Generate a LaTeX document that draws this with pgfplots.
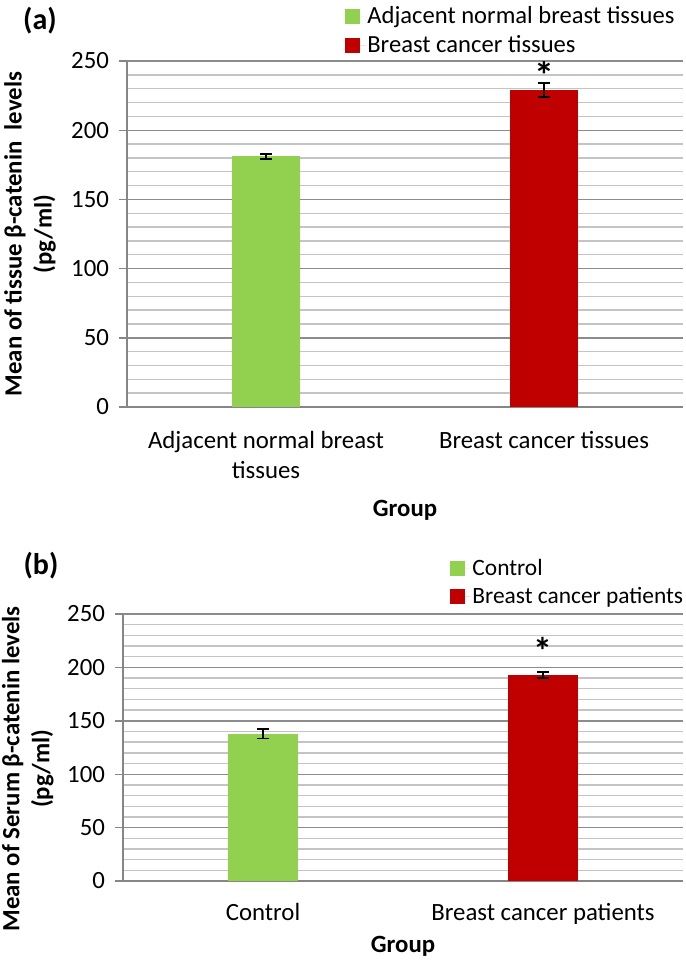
\documentclass[border=0pt]{standalone}
\usepackage{pgfplots}
\pgfplotsset{compat=1.18}
\usepackage{fontspec}
\setmainfont{Carlito}
\definecolor{barg}{HTML}{92D050}
\definecolor{barr}{HTML}{C00000}
\definecolor{majg}{HTML}{8C8C8C}
\definecolor{ming}{HTML}{C4C4C4}
\definecolor{axg}{HTML}{868686}
\pgfplotsset{
 mystyle/.style={
  scale only axis,
  ymin=0, ymax=250, ytick={0,50,...,250},
  minor y tick num=4,
  xmin=-0.5, xmax=1.5, xtick={0,1},
  axis x line*=bottom, axis y line*=left,
  axis line style={-, draw=axg, line width=0.7pt},
  ymajorgrids, yminorgrids,
  major grid style={draw=majg, line width=0.7pt},
  minor grid style={draw=ming, line width=0.7pt},
  tick align=outside,
  major tick length=4pt, minor tick length=0pt,
  ytick style={draw=axg, line width=0.7pt},
  xtick style={draw=none},
  ybar, bar shift=0pt,
  /pgf/number format/assume math mode=true,
  ticklabel style={font=\fontsize{12.4}{15}\selectfont},
  yticklabel style={xshift=-1.5pt},
  error bars/y dir=both, error bars/y explicit,
  error bars/error bar style={black, line width=0.9pt},
  error bars/error mark options={rotate=90, mark size=3pt, black, line width=0.9pt},
  legend image code/.code={\fill[##1,draw=none] (0pt,-3.75pt) rectangle (7.5pt,3.75pt); \path (0pt,0pt) -- (10pt,0pt);},
  legend style={draw=none, fill=none, font=\fontsize{12.3}{13}\selectfont, legend cell align=left, anchor=north west, inner sep=0pt, row sep=2pt, nodes={inner sep=1pt, text height=8.5pt, text depth=2pt}},
  label style={font=\bfseries\fontsize{12.4}{15}\selectfont, align=center},
 }
}
\begin{document}
\begin{tikzpicture}
\useasboundingbox (0,0) rectangle (342.5pt,-481pt);
\node[font=\bfseries\fontsize{15}{15}\selectfont] at (20pt,-10.5pt) {(a)};
\node[font=\bfseries\fontsize{15}{15}\selectfont] at (20.5pt,-283pt) {(b)};
% Panel (a)
\begin{axis}[mystyle,
  at={(63.5pt,-203.5pt)}, anchor=south west,
  width=278pt, height=173pt,
  bar width=34pt,
  xticklabels={{Adjacent normal breast\\tissues},{Breast cancer tissues}},
  xticklabel style={align=center, yshift=-4.5pt},
  xlabel={Group}, xlabel style={at={(0.5,-0.298)}, anchor=center},
  ylabel={Mean of tissue β-catenin~ levels\\(pg/ml)},
  ylabel style={at={(-0.1745,0.5)}, anchor=center},
  legend style={at={(0.392,1.165)}},
]
\addplot[fill=barg, draw=none] coordinates {(0,181) +- (0,2)};
\addlegendentry{Adjacent normal breast tissues}
\addplot[fill=barr, draw=none] coordinates {(1,229) +- (0,5)};
\addlegendentry{Breast cancer tissues}
\node[font=\bfseries\fontsize{20}{20}\selectfont] at (axis cs:1,239.5) {*};
\end{axis}
% Panel (b)
\begin{axis}[mystyle,
  at={(61.5pt,-440.5pt)}, anchor=south west,
  width=280pt, height=133.5pt,
  bar width=35pt,
  xticklabels={{Control},{Breast cancer patients}},
  xticklabel style={align=center, yshift=-3.5pt},
  xlabel={Group}, xlabel style={at={(0.5,-0.245)}, anchor=center},
  ylabel={Mean of Serum β-catenin levels\\(pg/ml)},
  ylabel style={at={(-0.170,0.42)}, anchor=center},
  legend style={at={(0.584,1.217)}, font=\fontsize{11.7}{13}\selectfont, row sep=1.5pt},
]
\addplot[fill=barg, draw=none] coordinates {(0,138) +- (0,4.5)};
\addlegendentry{Control}
\addplot[fill=barr, draw=none] coordinates {(1,193) +- (0,3)};
\addlegendentry{Breast cancer patients}
\node[font=\bfseries\fontsize{19}{19}\selectfont] at (axis cs:1,215) {*};
\end{axis}
\end{tikzpicture}
\end{document}
